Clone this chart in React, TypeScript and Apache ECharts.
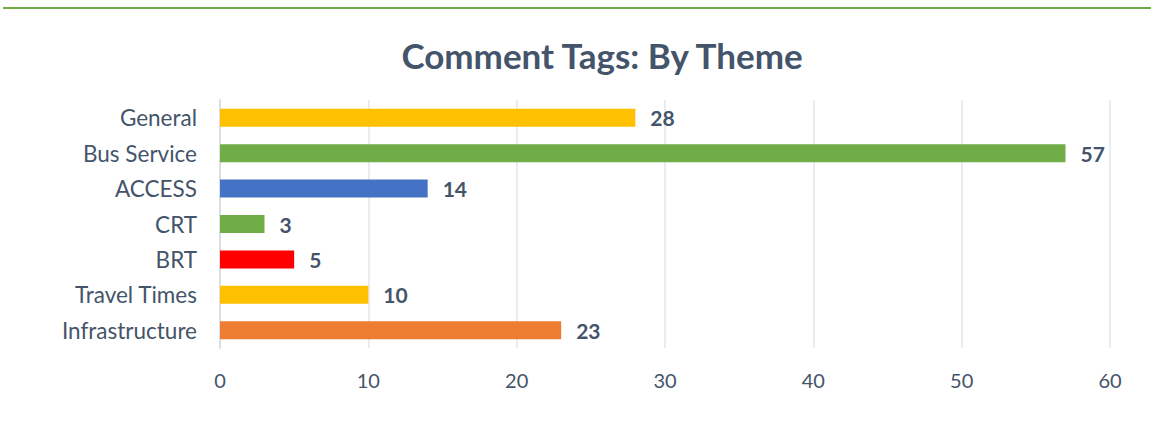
import React, { useEffect, useRef } from "react";
import * as echarts from "echarts";

const categories = ["Infrastructure", "Travel Times", "BRT", "CRT", "ACCESS", "Bus Service", "General"];
const values = [23, 10, 5, 3, 14, 57, 28];
const barColors = ["#ED7D31", "#FFC000", "#FF0000", "#70AD47", "#4472C4", "#70AD47", "#FFC000"];
const title = "Comment Tags: By Theme";

const FONT = "Lato, 'Open Sans', sans-serif";
const TEXT = "#44546A";

export default function App() {
  const ref = useRef<HTMLDivElement>(null);
  useEffect(() => {
    if (!ref.current) return;
    const chart = echarts.init(ref.current, undefined, { renderer: "svg" });
    chart.setOption({
      animation: false,
      backgroundColor: "#ffffff",
      title: {
        text: title,
        left: 597,
        textAlign: "center",
        top: 32,
        textStyle: { fontFamily: FONT, fontSize: 35, fontWeight: "bold", color: TEXT },
      },
      graphic: [
        {
          type: "line",
          shape: { x1: 3, y1: 8, x2: 1151, y2: 8 },
          style: { stroke: "#70AD47", lineWidth: 2 },
        },
      ],
      grid: { left: 220, right: 41, top: 100, bottom: 73, containLabel: false },
      xAxis: {
        type: "value",
        min: 0,
        max: 60,
        interval: 10,
        axisLine: { show: false },
        axisTick: { show: false },
        splitLine: { show: true, lineStyle: { color: "#E3E6EC", width: 1.5 } },
        axisLabel: { fontFamily: FONT, fontSize: 20, color: TEXT, margin: 22 },
      },
      yAxis: {
        type: "category",
        data: categories,
        axisLine: { show: true, lineStyle: { color: "#DADFE7", width: 2 } },
        axisTick: { show: false },
        axisLabel: { fontFamily: FONT, fontSize: 22.5, color: TEXT, margin: 23 },
      },
      series: [
        {
          type: "bar",
          data: values.map((v, i) => ({ value: v, itemStyle: { color: barColors[i] } })),
          barWidth: 18,
          label: {
            show: true,
            position: "right",
            distance: 15,
            fontFamily: FONT,
            fontSize: 21,
            fontWeight: "bold",
            color: TEXT,
          },
        },
      ],
    });
    return () => chart.dispose();
  }, []);
  return <div ref={ref} style={{ position: "fixed", left: 0, top: 0, width: 1151, height: 421 }} />;
}
